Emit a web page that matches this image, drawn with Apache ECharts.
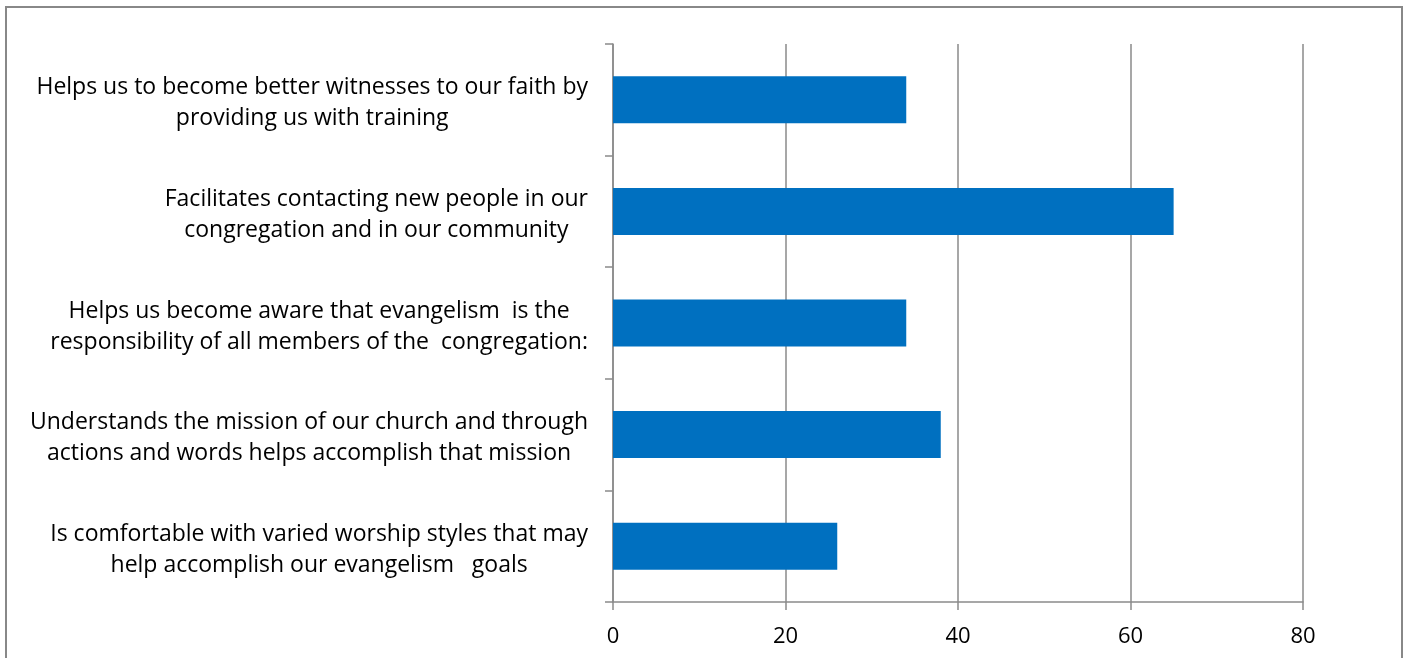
<!DOCTYPE html>
<html>
<head>
<meta charset="utf-8">
<script src="https://cdn.jsdelivr.net/npm/echarts@6/dist/echarts.min.js"></script>
<style>
html,body{margin:0;padding:0;background:#fff;}
#chart{width:1407px;height:658px;}
</style>
</head>
<body>
<div id="chart"></div>
<script>
const categories = [
  "Helps us to become better witnesses to our faith by\nproviding us with training",
  "Facilitates contacting new people in our\ncongregation and in our community",
  "Helps us become aware that evangelism  is the\nresponsibility of all members of the  congregation:",
  "Understands the mission of our church and through\nactions and words helps accomplish that mission",
  "Is comfortable with varied worship styles that may\nhelp accomplish our evangelism   goals"
];
const values = [34, 65, 34, 38, 26];
const xTicks = { min: 0, max: 80, interval: 20 };

const FONT = '"Open Sans"';
const chart = echarts.init(document.getElementById('chart'), null, {renderer: 'canvas'});
const axisGray = '#8a8a8a';
chart.setOption({
  animation: false,
  backgroundColor: '#fff',
  textStyle: { fontFamily: FONT },
  graphic: [{
    type: 'rect',
    shape: { x: 6, y: 7, width: 1396, height: 700 },
    style: { fill: 'none', stroke: '#888', lineWidth: 2 },
    silent: true, z: -10
  }],
  grid: { left: 613, right: 104, top: 44, bottom: 56, containLabel: false },
  xAxis: {
    type: 'value',
    min: xTicks.min, max: xTicks.max, interval: xTicks.interval,
    axisLine: { show: true, lineStyle: { color: axisGray, width: 1.5 } },
    axisTick: { show: true, length: 8, lineStyle: { color: axisGray, width: 1.5 } },
    splitLine: { show: true, lineStyle: { color: axisGray, width: 1.5 } },
    axisLabel: { color: '#000', fontSize: 22, margin: 24, fontFamily: FONT }
  },
  yAxis: {
    type: 'category',
    inverse: true,
    data: categories,
    axisLine: { show: true, lineStyle: { color: axisGray, width: 1.5 } },
    axisTick: { show: true, length: 8, lineStyle: { color: axisGray, width: 1.5 } },
    axisLabel: {
      color: '#000', fontSize: 23, margin: 25, align: 'right',
      padding: [7, 0, 0, 0],
      formatter: function (v) { return '{c|' + v + '}'; },
      rich: { c: { align: 'center', fontSize: 23, lineHeight: 31, color: '#000', fontFamily: FONT } }
    }
  },
  series: [{
    type: 'bar',
    data: values,
    barWidth: 47,
    itemStyle: { color: '#0070C0' }
  }]
});
</script>
</body>
</html>
